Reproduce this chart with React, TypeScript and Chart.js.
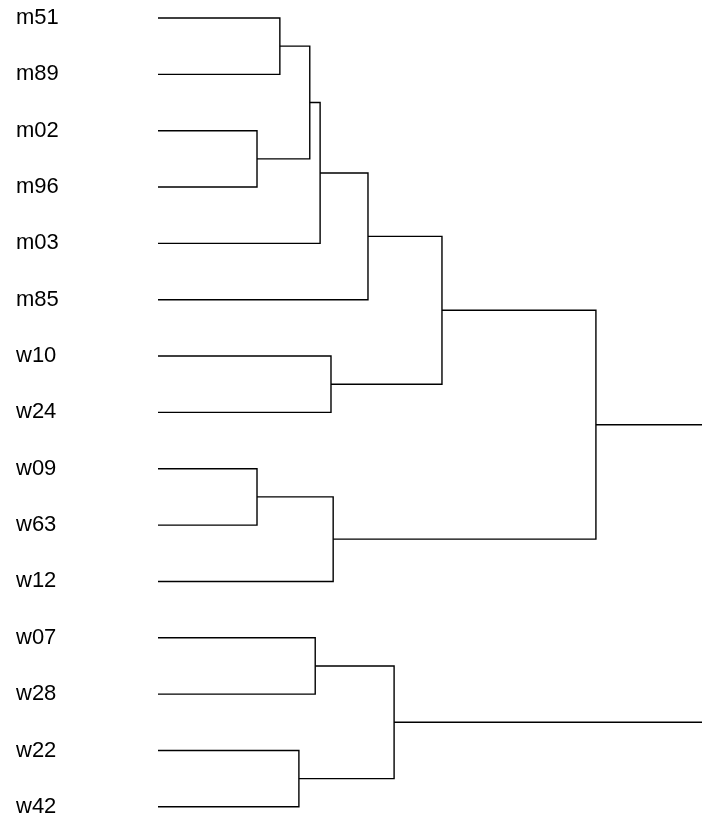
import React, { useEffect, useRef } from "react";
import { Chart, registerables } from "chart.js";

Chart.register(...registerables);

// Leaf labels, top to bottom
const leaves = ["m51", "m89", "m02", "m96", "m03", "m85", "w10", "w24", "w09", "w63", "w12", "w07", "w28", "w22", "w42"];
// hclust-style merge table: negative = leaf (1-based), positive = earlier merge (1-based)
const mergeLeft = [-1, -3, 1, 3, 4, -7, 5, -9, 8, 7, -12, -14, 11, 10];
const mergeRight = [-2, -4, 2, -5, -6, -8, 6, -10, -11, 9, -13, -15, 12, 13];
const mergeHeight = [2.24, 1.82, 2.79, 2.98, 3.86, 3.18, 5.22, 1.82, 3.22, 8.05, 2.89, 2.59, 4.34, 11.5];
// visible height range
const heightMin = 0;
const heightMax = 10;

function buildDatasets() {
  const nodeY: number[] = [];
  const nodeH: number[] = [];
  const ref = (k: number) =>
    k < 0 ? { y: -k - 1, h: 0 } : { y: nodeY[k - 1], h: nodeH[k - 1] };
  const datasets: any[] = [];
  for (let i = 0; i < mergeHeight.length; i++) {
    const a = ref(mergeLeft[i]);
    const b = ref(mergeRight[i]);
    const h = mergeHeight[i];
    nodeY.push((a.y + b.y) / 2);
    nodeH.push(h);
    datasets.push({
      data: [
        { x: a.h, y: a.y },
        { x: h, y: a.y },
        { x: h, y: b.y },
        { x: b.h, y: b.y },
      ],
      borderColor: "#000000",
      borderWidth: 1.4,
      pointRadius: 0,
      fill: false,
      tension: 0,
      clip: false,
    });
  }
  return datasets;
}

export default function App() {
  const ref = useRef<HTMLCanvasElement | null>(null);
  useEffect(() => {
    if (!ref.current) return;
    const chart = new Chart(ref.current, {
      type: "line",
      data: { datasets: buildDatasets() },
      options: {
        animation: false,
        responsive: false,
        maintainAspectRatio: false,
        devicePixelRatio: 1,
        layout: { padding: { left: 16, right: 0, top: 18, bottom: 12 } },
        plugins: { legend: { display: false }, tooltip: { enabled: false } },
        scales: {
          x: {
            type: "linear",
            min: heightMin,
            max: heightMax,
            display: false,
          },
          y: {
            type: "linear",
            min: 0,
            max: leaves.length - 1,
            reverse: true,
            grid: { display: false },
            border: { display: false },
            afterBuildTicks: (axis: any) => {
              axis.ticks = leaves.map((_, i) => ({ value: i }));
            },
            afterFit: (axis: any) => {
              axis.width = 142;
            },
            ticks: {
              autoSkip: false,
              crossAlign: "far",
              padding: 0,
              color: "#000000",
              font: { family: "'Liberation Sans', Arial, sans-serif", size: 22 },
              callback: (v: any) => leaves[Math.round(Number(v))] ?? "",
            },
          },
        },
      },
    });
    return () => chart.destroy();
  }, []);
  return (
    <div style={{ position: "absolute", left: 0, top: 0, width: 702, height: 820, background: "#fff" }}>
      <canvas ref={ref} width={702} height={820} style={{ display: "block" }} />
    </div>
  );
}
